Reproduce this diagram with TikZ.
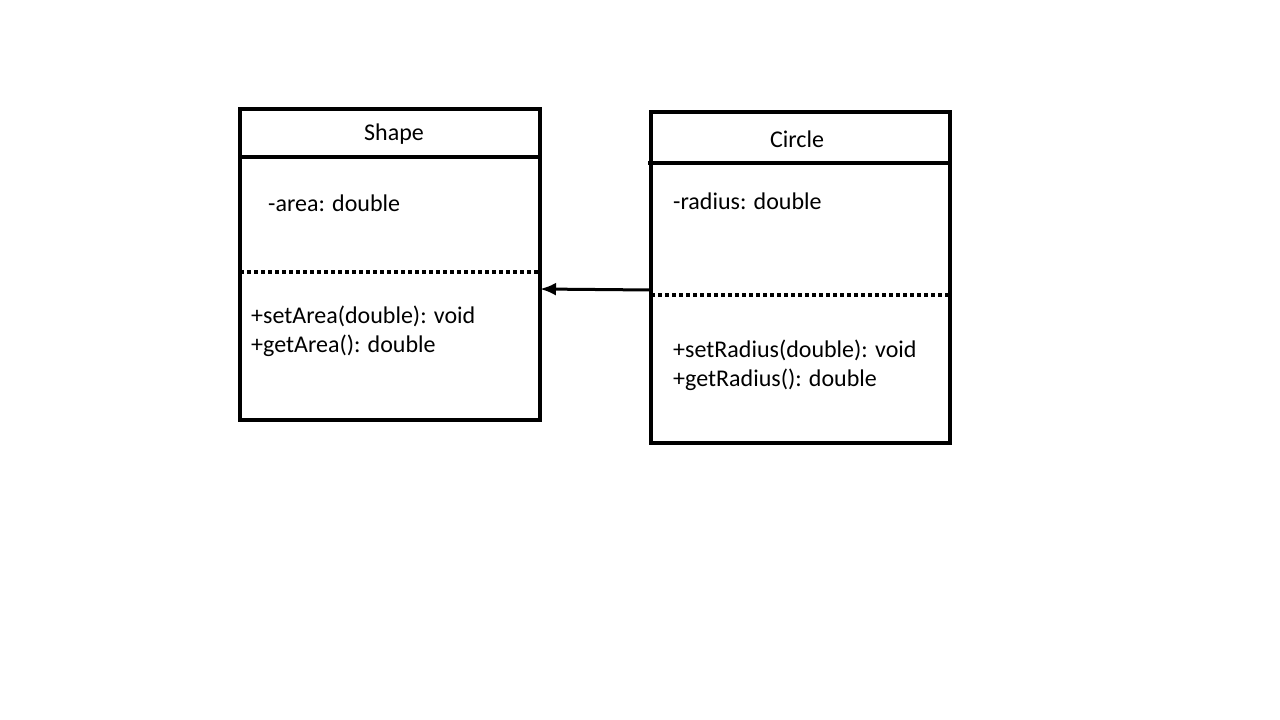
\documentclass[tikz,border=0pt]{standalone}
\usepackage{fontspec}
\setmainfont{Carlito}
\usetikzlibrary{arrows.meta}
\begin{document}
\begin{tikzpicture}[x=1pt,y=-1pt,
  classbox/.style={draw=black,line width=3.5pt,rectangle,inner sep=0pt,outer sep=0pt},
  sepline/.style={line width=3.5pt},
  dotline/.style={line width=3.5pt,dash pattern=on 4pt off 3pt},
  txt/.style={inner sep=0pt,font=\fontsize{24}{29}\selectfont,anchor=west,align=left},
  title/.style={inner sep=0pt,font=\fontsize{24}{29}\selectfont},
  inherit/.style={line width=3pt,-{Latex[length=16pt,width=13pt]}}]
\useasboundingbox (0,0) rectangle (1280,720);
\fill[white] (0,0) rectangle (1280,720);
% Shape class
\node[classbox,minimum width=300pt,minimum height=311pt] (shape) at (390,264.5) {};
\draw[sepline] (240,157) coordinate (sA) -- (540,157) coordinate (sB);
\draw[dotline] (240,272) coordinate (sC) -- (540,272) coordinate (sD);
\node[title] (shapetitle) at (394,134) {Shape};
\node[txt] (shapeattr) at (268,203) {-area: double};
\node[txt] (shapeops) at (251,331) {+setArea(double): void\\+getArea(): double};
% Circle class
\node[classbox,minimum width=299pt,minimum height=331pt] (circ) at (800.5,277.5) {};
\draw[sepline] (648,163) coordinate (cA) -- (950,163) coordinate (cB);
\draw[dotline] (651,295) coordinate (cC) -- (950,295) coordinate (cD);
\node[title] (circtitle) at (797,139) {Circle};
\node[txt] (circattr) at (673,201) {-radius: double};
\node[txt] (circops) at (673,365.5) {+setRadius(double): void\\+getRadius(): double};
% inheritance arrow
\draw[inherit] ([yshift=-12.5pt]circ.west) -- ([yshift=-24.5pt]shape.east);
\end{tikzpicture}
\end{document}
